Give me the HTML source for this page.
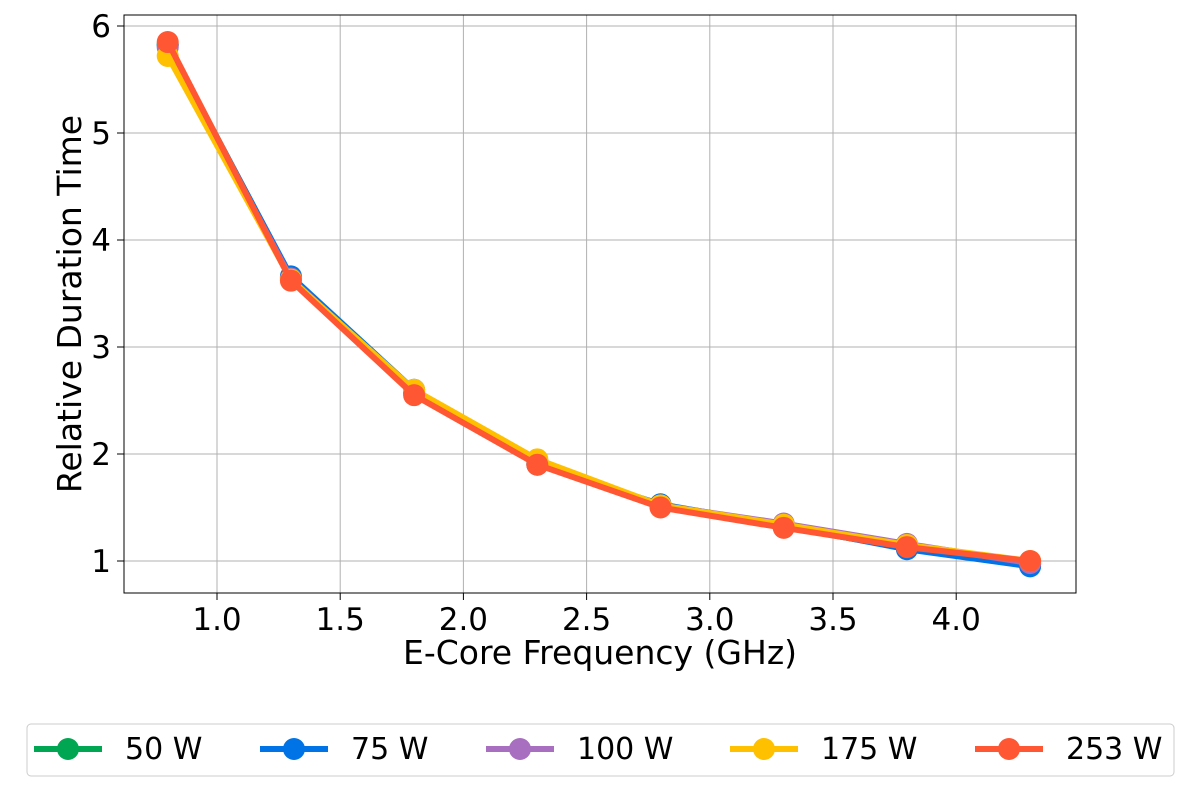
<!DOCTYPE html>
<html><head><meta charset="utf-8"><style>
html,body{margin:0;padding:0;background:#fff;}
svg{display:block;font-family:"DejaVu Sans","Liberation Sans",sans-serif;}
</style></head><body>
<svg id="chart" width="1200" height="800">
<g id="grid"></g>
<g id="series"></g>
<rect x="124" y="15" width="952" height="578" fill="none" stroke="#000" stroke-width="1"/>
<g id="ticks"></g>
<text x="600" y="664" font-size="33" text-anchor="middle">E-Core Frequency (GHz)</text>
<text transform="translate(81,304) rotate(-90)" font-size="33" text-anchor="middle">Relative Duration Time</text>
<rect x="27" y="724" width="1147" height="52" rx="4" fill="#fff" stroke="#ccc"/>
<g id="legend"></g>
</svg>
<script>
const categories=[0.8,1.3,1.8,2.3,2.8,3.3,3.8,4.3];
const seriesNames=["50 W","75 W","100 W","175 W","253 W"];
const s50=[5.83,3.65,2.57,1.91,1.51,1.32,1.12,0.97];
const s75=[5.82,3.66,2.6,1.9,1.53,1.33,1.11,0.95];
const s100=[5.8,3.64,2.58,1.93,1.52,1.35,1.16,0.98];
const s175=[5.72,3.63,2.6,1.95,1.52,1.34,1.15,1.0];
const s253=[5.85,3.62,2.55,1.9,1.5,1.31,1.13,1.0];
const xTicks=[1.0,1.5,2.0,2.5,3.0,3.5,4.0];
const xTickLabels=["1.0","1.5","2.0","2.5","3.0","3.5","4.0"];
const yTicks=[1,2,3,4,5,6];
const yTickLabels=["1","2","3","4","5","6"];
const colors=["#00a651","#0073e6","#a86ebf","#ffc000","#ff5733"];
const NS="http://www.w3.org/2000/svg";
const X=v=>217+(v-1.0)*246.4;
const Y=v=>561-(v-1)*107;
function mk(tag,attrs,parent){const e=document.createElementNS(NS,tag);for(const k in attrs)e.setAttribute(k,attrs[k]);parent.appendChild(e);return e;}
const grid=document.getElementById('grid'),ticks=document.getElementById('ticks');
xTicks.forEach((t,i)=>{
 const l=mk('line',{x1:X(t),x2:X(t),y1:15,y2:593,stroke:'#b0b0b0','stroke-width':1},grid);
 
 
 mk('line',{x1:X(t),x2:X(t),y1:593,y2:600,stroke:'#000'},ticks);
 const tx=mk('text',{x:X(t),y:630,'font-size':31,'text-anchor':'middle'},ticks);tx.textContent=xTickLabels[i];
 
 
});
yTicks.forEach((t,i)=>{
 const l=mk('line',{x1:124,x2:1076,y1:Y(t),y2:Y(t),stroke:'#b0b0b0','stroke-width':1},grid);
 
 
 mk('line',{x1:117,x2:124,y1:Y(t),y2:Y(t),stroke:'#000'},ticks);
 const tx=mk('text',{x:111,y:Y(t)+11,'font-size':31,'text-anchor':'end'},ticks);tx.textContent=yTickLabels[i];
 
 
});
const all=[s50,s75,s100,s175,s253];
const sg=document.getElementById('series');
all.forEach((s,k)=>{
 const g=mk('g',{},sg);
 
 
 const p=mk('polyline',{points:s.map((v,i)=>X(categories[i])+','+Y(v)).join(' '),fill:'none',stroke:colors[k],'stroke-width':6,'stroke-linejoin':'round'},g);
 
 
 s.forEach((v,i)=>{const c=mk('circle',{cx:X(categories[i]),cy:Y(v),r:11,fill:colors[k]},g);
  
  });
});
const lg=document.getElementById('legend');
const lx=[34,260,486,730,975];
seriesNames.forEach((n,k)=>{
 const g=mk('g',{},lg);
 
 
 mk('line',{x1:lx[k],x2:lx[k]+68,y1:749,y2:749,stroke:colors[k],'stroke-width':6},g);
 mk('circle',{cx:lx[k]+34,cy:749,r:11,fill:colors[k]},g);
 const t=mk('text',{x:lx[k]+91,y:759,'font-size':30},g);t.textContent=n;
});
</script>
</body></html>
